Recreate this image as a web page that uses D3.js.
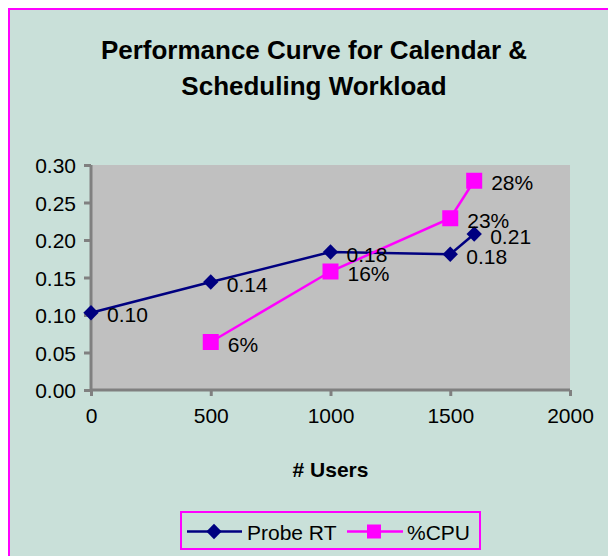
<!DOCTYPE html>
<html>
<head>
<meta charset="utf-8">
<script src="https://cdn.jsdelivr.net/npm/d3@7"></script>
<style>
  html, body { margin: 0; padding: 0; background: #fff; }
  text { font-family: Arial, "Liberation Sans", sans-serif; fill: #000; }
</style>
</head>
<body>
<div id="chart"></div>
<script>
// Performance curve data
const users = [0, 500, 1000, 1500, 1600];
const probeRT = [0.103, 0.144, 0.184, 0.181, 0.208];
const probeLabels = ['0.10', '0.14', '0.18', '0.18', '0.21'];
const cpuUsers = [500, 1000, 1500, 1600];
const cpuValues = [0.064, 0.158, 0.229, 0.279];
const cpuLabels = ['6%', '16%', '23%', '28%'];
const xTicks = [0, 500, 1000, 1500, 2000];
const yTicks = [0, 0.05, 0.10, 0.15, 0.20, 0.25, 0.30];

function drawChart() {
    const width = 608, height = 556;
    const svg = d3.select('#chart').append('svg')
        .attr('width', width)
        .attr('height', height);

    // chart area background + pink border
    svg.append('rect')
        .attr('x', 9).attr('y', 9)
        .attr('width', 612).attr('height', 560)
        .attr('fill', '#c9e0d9')
        .attr('stroke', '#ff00ff')
        .attr('stroke-width', 2);

    const plot = { left: 91, right: 570, top: 165, bottom: 390 };

    const x = d3.scaleLinear().domain([0, 2000]).range([plot.left, plot.right]);
    const y = d3.scaleLinear().domain([0, 0.30]).range([plot.bottom, plot.top]);

    svg.append('rect')
        .attr('x', plot.left).attr('y', plot.top)
        .attr('width', plot.right - plot.left)
        .attr('height', plot.bottom - plot.top)
        .attr('fill', '#c0c0c0');

    // title
    const title = svg.append('text')
        .attr('text-anchor', 'middle')
        .attr('font-size', '26px')
        .attr('font-weight', 'bold');
    title.append('tspan').attr('x', 314).attr('y', 59).text('Performance Curve for Calendar &');
    title.append('tspan').attr('x', 314).attr('y', 95).text('Scheduling Workload');

    // axes
    const yAxis = svg.append('g')
        .attr('transform', `translate(${plot.left},0)`)
        .call(d3.axisLeft(y).tickValues(yTicks).tickFormat(d3.format('.2f')).tickSize(7).tickPadding(8));
    const xAxis = svg.append('g')
        .attr('transform', `translate(0,${plot.bottom})`)
        .call(d3.axisBottom(x).tickValues(xTicks).tickFormat(d3.format('d')).tickSize(6).tickPadding(12));

    [xAxis, yAxis].forEach(g => {
        g.select('.domain').attr('stroke', '#808080').attr('stroke-width', 3);
        g.selectAll('.tick line').attr('stroke', '#808080').attr('stroke-width', 3);
        g.selectAll('.tick text')
            .attr('font-size', '21px')
            .attr('font-family', 'Arial, "Liberation Sans", sans-serif')
            .attr('fill', '#000');
    });
    yAxis.selectAll('.tick text').attr('dy', '0.36em');
    xAxis.select('.domain').attr('d', `M${plot.left},0H${plot.right}`);
    yAxis.select('.domain').attr('d', `M0,${plot.top}V${plot.bottom}`);

    svg.append('text')
        .attr('x', (plot.left + plot.right) / 2)
        .attr('y', 477)
        .attr('text-anchor', 'middle')
        .attr('font-size', '21px')
        .attr('font-weight', 'bold')
        .text('# Users');

    const line = d3.line().x(d => x(d[0])).y(d => y(d[1]));
    const diamond = d3.symbol().type(d3.symbolDiamond2).size(150);
    const probeData = users.map((u, i) => [u, probeRT[i], probeLabels[i]]);
    const cpuData = cpuUsers.map((u, i) => [u, cpuValues[i], cpuLabels[i]]);

    // Probe RT series
    svg.append('path')
        .datum(probeData)
        .attr('fill', 'none')
        .attr('stroke', '#000080')
        .attr('stroke-width', 2.5)
        .attr('d', line);

    // %CPU series
    svg.append('path')
        .datum(cpuData)
        .attr('fill', 'none')
        .attr('stroke', '#ff00ff')
        .attr('stroke-width', 2.5)
        .attr('d', line);

    svg.selectAll('.probe-pt')
        .data(probeData)
        .enter().append('path')
        .attr('class', 'probe-pt')
        .attr('transform', d => `translate(${x(d[0])},${y(d[1])})`)
        .attr('d', diamond)
        .attr('fill', '#000080');

    svg.selectAll('.cpu-pt')
        .data(cpuData)
        .enter().append('rect')
        .attr('class', 'cpu-pt')
        .attr('x', d => x(d[0]) - 8)
        .attr('y', d => y(d[1]) - 8)
        .attr('width', 16).attr('height', 16)
        .attr('fill', '#ff00ff');

    // data labels
    svg.selectAll('.probe-lbl')
        .data(probeData)
        .enter().append('text')
        .attr('class', 'probe-lbl')
        .attr('x', d => x(d[0]) + 16)
        .attr('y', d => y(d[1]) + 9.5)
        .attr('font-size', '21px')
        .text(d => d[2]);

    svg.selectAll('.cpu-lbl')
        .data(cpuData)
        .enter().append('text')
        .attr('class', 'cpu-lbl')
        .attr('x', d => x(d[0]) + 17)
        .attr('y', d => y(d[1]) + 9.5)
        .attr('font-size', '21px')
        .text(d => d[2]);

    // legend
    const legend = svg.append('g');
    legend.append('rect')
        .attr('x', 181).attr('y', 512)
        .attr('width', 299).attr('height', 37)
        .attr('fill', 'none')
        .attr('stroke', '#ff00ff')
        .attr('stroke-width', 2);

    const ly = 531.5;
    legend.append('line')
        .attr('x1', 187).attr('x2', 242).attr('y1', ly).attr('y2', ly)
        .attr('stroke', '#000080').attr('stroke-width', 2.5);
    legend.append('path')
        .attr('transform', `translate(214,${ly})`)
        .attr('d', diamond)
        .attr('fill', '#000080');
    legend.append('text')
        .attr('x', 247).attr('y', ly + 8)
        .attr('font-size', '21px')
        .text('Probe RT');

    legend.append('line')
        .attr('x1', 347).attr('x2', 403).attr('y1', ly).attr('y2', ly)
        .attr('stroke', '#ff00ff').attr('stroke-width', 2.5);
    legend.append('rect')
        .attr('x', 367).attr('y', ly - 7)
        .attr('width', 14).attr('height', 14)
        .attr('fill', '#ff00ff');
    legend.append('text')
        .attr('x', 407).attr('y', ly + 8)
        .attr('font-size', '21px')
        .text('%CPU');
}

drawChart();
</script>
</body>
</html>
